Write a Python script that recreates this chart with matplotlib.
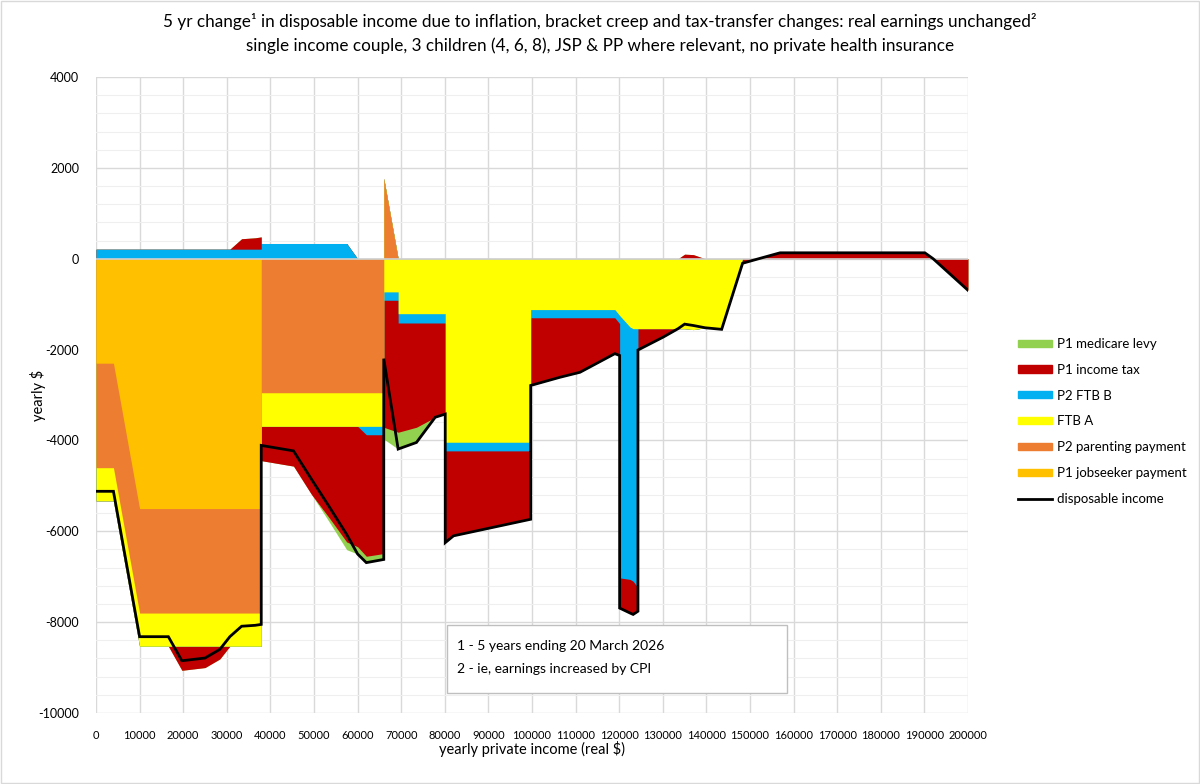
import numpy as np
import matplotlib
matplotlib.use('Agg')
import matplotlib.pyplot as plt
from matplotlib.patches import Patch, Rectangle
from matplotlib.lines import Line2D

plt.rcParams['font.family'] = ['Lato', 'DejaVu Sans']

# yearly private income ($), repeated values mark a step
income = [0, 4000, 10000, 16600, 19700, 25000, 28400, 30700, 33400, 36500, 37900,
          37900, 45300, 49400, 53500, 57500, 60000, 62000, 66000,
          66000, 69300,
          69300, 73500, 77800, 80100,
          80100, 82000, 99700,
          99700, 106400, 111000, 119000, 120100,
          120100, 122500, 123200, 124300,
          124300, 130100, 133500, 135000, 137000, 139700, 143500, 148300,
          152000, 156900, 190100, 192000, 200000]

jobseeker = [-2300, -2300, -5500, -5500, -5500, -5500, -5500, -5500, -5500, -5500, -5500,
             0, 0, 0, 0, 0, 0, 0, 0,
             0, 0,
             0, 0, 0, 0,
             0, 0, 0,
             0, 0, 0, 0, 0,
             0, 0, 0, 0,
             0, 0, 0, 0, 0, 0, 0, 0,
             0, 0, 0, 0, 0]

parenting = [-2300, -2300, -2300, -2300, -2300, -2300, -2300, -2300, -2300, -2300, -2300,
             -2950, -2950, -2950, -2950, -2950, -2950, -2950, -2950,
             1770, 0,
             0, 0, 0, 0,
             0, 0, 0,
             0, 0, 0, 0, 0,
             0, 0, 0, 0,
             0, 0, 0, 0, 0, 0, 0, 0,
             0, 0, 0, 0, 0]

ftb_a = [-730, -730, -730, -730, -730, -730, -730, -730, -730, -730, -730,
         -740, -740, -740, -740, -740, -740, -740, -740,
         -730, -730,
         -1210, -1210, -1210, -1210,
         -4040, -4040, -4040,
         -1120, -1120, -1120, -1120, -1250,
         -1250, -1505, -1540, -1540,
         -1540, -1540, -1540, -1540, -1560, -1520, -1555, 0,
         0, 0, 0, 0, 0]

ftb_b = [210, 210, 210, 210, 210, 210, 210, 210, 210, 210, 210,
         335, 335, 335, 335, 335, 0, -185, -185,
         -185, -185,
         -205, -205, -205, -205,
         -190, -190, -190,
         -180, -180, -180, -180, -180,
         -5775, -5555, -5560, -5705,
         0, 0, 0, 0, 0, 0, 0, 0,
         0, 0, 0, 0, 0]

income_tax = [0, 0, 0, 0, -530, -470, -280, 0, 230, 250, 270,
              -755, -875, -1495, -2015, -2545, -2650, -2675, -2615,
              -2795, -2905,
              -2405, -2295, -2075, -2005,
              -2020, -1870, -1505,
              -1490, -1310, -1200, -790, -700,
              -665, -740, -730, -515,
              -470, -185, 0, 100, 90, 0, 0, -100,
              0, 130, 130, 0, -695]

medicare = [0, 0, 0, 0, 0, 0, 0, 0, 0, 0, 0,
            0, 0, 0, -90, -170, -160, -140, -130,
            -260, -370,
            -370, -335, 0, 0,
            0, 0, 0,
            0, 0, 0, 0, 0,
            0, 0, 0, 0,
            0, 0, 0, 0, 0, 0, 0, 0,
            0, 0, 0, 0, 0]

labels = ['P1 jobseeker payment', 'P2 parenting payment', 'FTB A', 'P2 FTB B',
          'P1 income tax', 'P1 medicare levy']
colors = ['#FFC000', '#ED7D31', '#FFFF00', '#00B0F0', '#C00000', '#92D050']


def stacked_areas(ax, x, series, colors):
    # positives stack upward, negatives downward, like excel stacked columns
    vals = np.array(series, dtype=float)
    pos_cum = np.cumsum(np.clip(vals, 0, None), axis=0)
    neg_cum = np.cumsum(np.clip(vals, None, 0), axis=0)
    for k in range(len(series) - 1, -1, -1):
        ax.fill_between(x, 0, pos_cum[k], color=colors[k], lw=0, zorder=2)
        ax.fill_between(x, 0, neg_cum[k], color=colors[k], lw=0, zorder=2)
    return vals.sum(axis=0)


fig = plt.figure(figsize=(12, 7.84), dpi=100)
ax = fig.add_axes([96 / 1200, 1 - 713 / 784, 872 / 1200, 636 / 784])

x = np.array(income, dtype=float)
series = [jobseeker, parenting, ftb_a, ftb_b, income_tax, medicare]
disposable = stacked_areas(ax, x, series, colors)
ax.plot(x, disposable, color='black', lw=2, zorder=4, solid_joinstyle='miter')

ax.set_xlim(0, 200000)
ax.set_ylim(-10000, 4000)
ax.set_xticks(np.arange(0, 200001, 10000))
ax.set_xticklabels([str(v) for v in range(0, 200001, 10000)], fontsize=8)
ax.set_yticks(np.arange(-10000, 4001, 2000))
ax.set_yticklabels([str(v) for v in range(-10000, 4001, 2000)], fontsize=9)
ax.set_yticks(np.arange(-10000, 4001, 400), minor=True)
ax.tick_params(length=0, which='both', pad=12)
ax.tick_params(axis='y', pad=12)
ax.grid(True, which='major', color='#D9D9D9', lw=1, zorder=0)
ax.grid(True, which='minor', axis='y', color='#EFEFEF', lw=0.8, zorder=0)
ax.set_axisbelow(True)
for s in ax.spines.values():
    s.set_visible(False)
ax.axhline(0, color='#D0D0D0', lw=1.2, zorder=3)

fig.text(532 / 1200, 1 - 749 / 784, 'yearly private income (real $)',
         ha='center', va='center', fontsize=10.5)
fig.text(38 / 1200, 1 - 395 / 784, 'yearly $', rotation=90,
         ha='center', va='center', fontsize=10.5)

fig.text(0.5, 1 - 22 / 784,
         '5 yr change\u00b9 in disposable income due to inflation, bracket creep and '
         'tax-transfer changes: real earnings unchanged\u00b2',
         ha='center', va='center', fontsize=12.3)
fig.text(0.5, 1 - 46 / 784,
         'single income couple, 3 children (4, 6, 8), JSP & PP where relevant, '
         'no private health insurance',
         ha='center', va='center', fontsize=12.3)

# note box
ax.add_patch(Rectangle(((447 - 96) / 872, (713 - 693) / 636), 340 / 872, 68 / 636,
                       transform=ax.transAxes, facecolor='white',
                       edgecolor='#BFBFBF', lw=1, zorder=5))
ax.text((457 - 96) / 872, (713 - 646) / 636, '1 - 5 years ending 20 March 2026',
        transform=ax.transAxes, va='center', fontsize=10, zorder=6)
ax.text((457 - 96) / 872, (713 - 669) / 636, '2 - ie, earnings increased by CPI',
        transform=ax.transAxes, va='center', fontsize=10, zorder=6)

handles = [Patch(color=c, label=l) for l, c in zip(labels, colors)][::-1]
handles.append(Line2D([], [], color='black', lw=2, label='disposable income'))
fig.legend(handles=handles, loc='upper left',
           bbox_to_anchor=(1006 / 1200, 1 - 326 / 784), frameon=False,
           fontsize=9.5, handlelength=2.6, handleheight=0.45,
           handletextpad=0.4, labelspacing=1.05)

fig.patches.append(Rectangle((0.0008, 0.0012), 0.9984, 0.9976, transform=fig.transFigure,
                             fill=False, edgecolor='#D9D9D9', lw=1))

fig.savefig('out.png', dpi=100)
